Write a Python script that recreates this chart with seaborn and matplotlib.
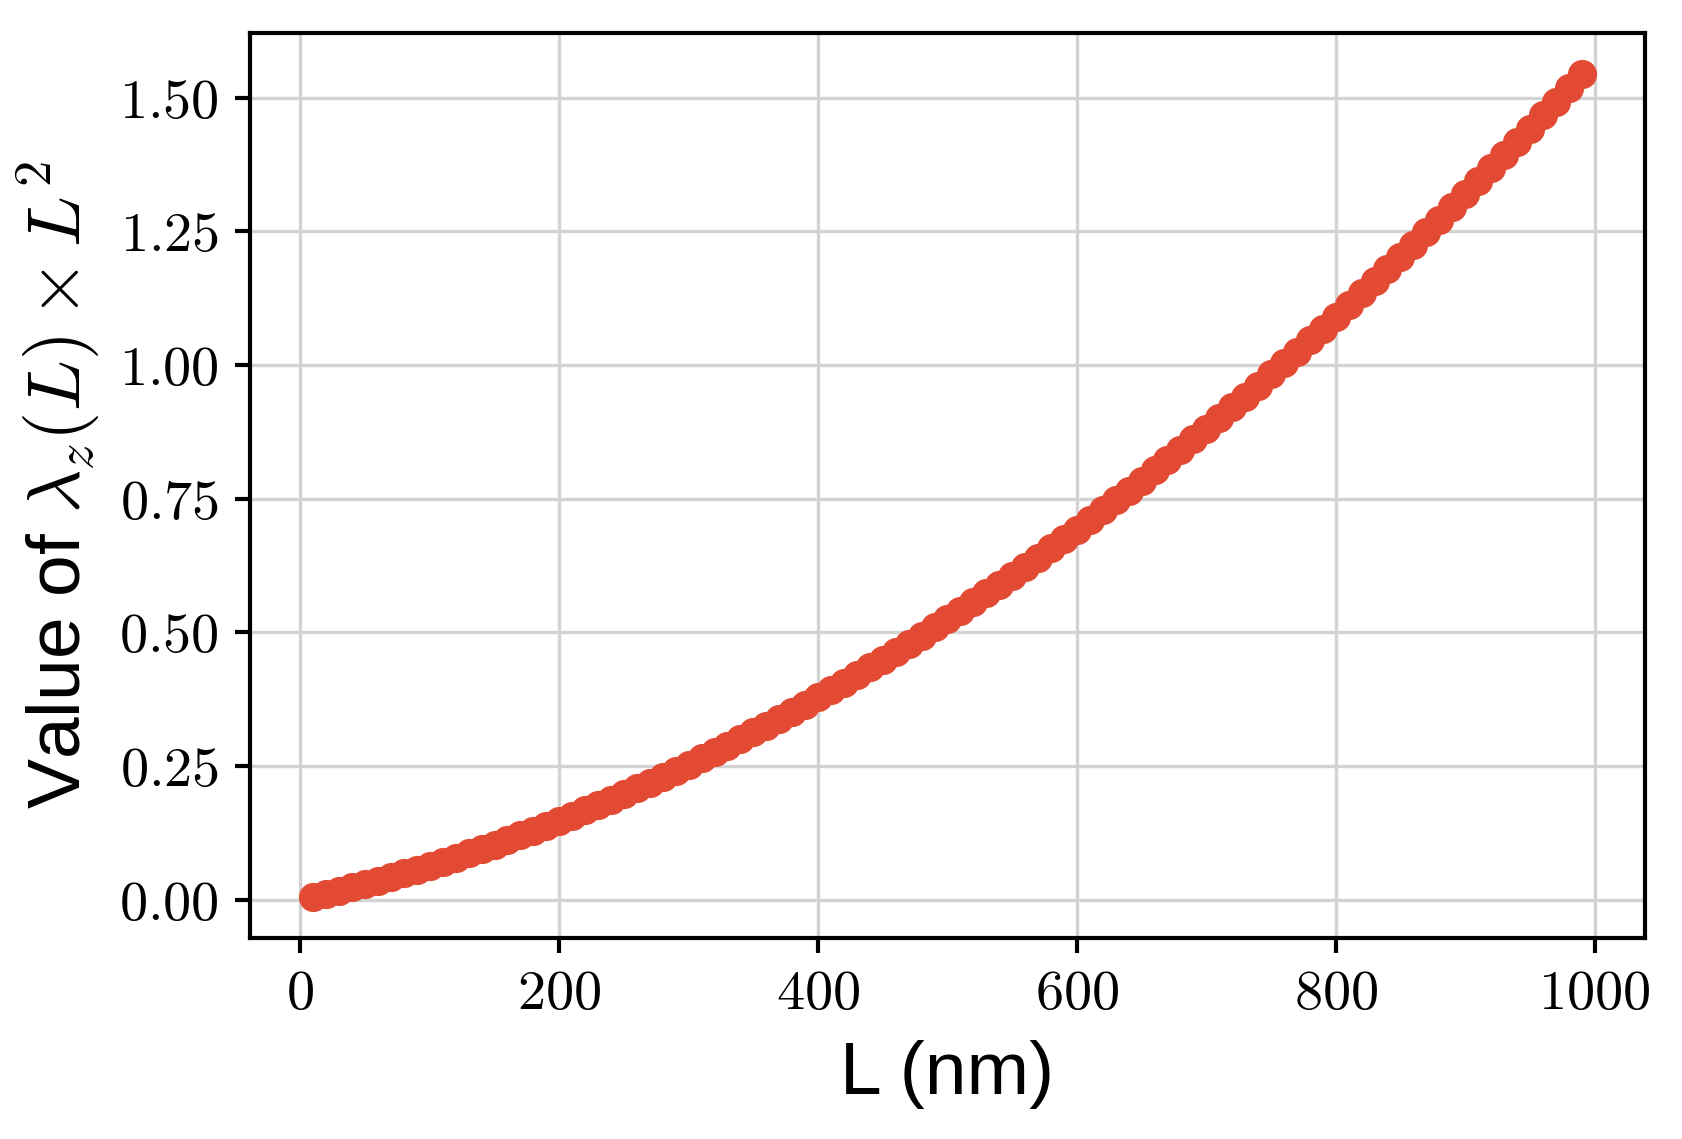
import pandas as pd
import matplotlib
matplotlib.use("Agg")
import matplotlib.pyplot as plt
import matplotlib.ticker as mticker
import seaborn as sns

# L values (nm) and estimated values of lambda_z(L) * L^2
L_nm = list(range(10, 1000, 10))
lambda_L2 = [
    0.0054, 0.0110, 0.0168, 0.0229, 0.0291, 0.0355, 0.0422, 0.0491, 0.0561, 0.0634,
    0.0709, 0.0786, 0.0865, 0.0946, 0.1029, 0.1114, 0.1202, 0.1291, 0.1382, 0.1476,
    0.1572, 0.1669, 0.1769, 0.1871, 0.1975, 0.2081, 0.2189, 0.2299, 0.2412, 0.2526,
    0.2642, 0.2761, 0.2882, 0.3004, 0.3129, 0.3256, 0.3385, 0.3516, 0.3649, 0.3784,
    0.3921, 0.4061, 0.4202, 0.4345, 0.4491, 0.4639, 0.4788, 0.4940, 0.5094, 0.5250,
    0.5408, 0.5568, 0.5730, 0.5895, 0.6061, 0.6229, 0.6400, 0.6573, 0.6747, 0.6924,
    0.7103, 0.7284, 0.7467, 0.7652, 0.7839, 0.8028, 0.8220, 0.8413, 0.8608, 0.8806,
    0.9006, 0.9207, 0.9411, 0.9617, 0.9825, 1.0035, 1.0247, 1.0461, 1.0678, 1.0896,
    1.1116, 1.1339, 1.1564, 1.1790, 1.2019, 1.2250, 1.2483, 1.2718, 1.2955, 1.3194,
    1.3435, 1.3679, 1.3924, 1.4171, 1.4421, 1.4673, 1.4926, 1.5182, 1.5440,
]
x_ticks = [0, 200, 400, 600, 800, 1000]
y_ticks = [0.00, 0.25, 0.50, 0.75, 1.00, 1.25, 1.50]

sns.set_theme(style="whitegrid")
plt.rcParams["font.family"] = ["Liberation Sans", "DejaVu Sans"]
plt.rcParams["mathtext.fontset"] = "cm"

df = pd.DataFrame({"L": L_nm, "val": lambda_L2})

fig = plt.figure(figsize=(1682 / 300, 1139 / 300), dpi=300)
ax = fig.add_axes([0.1486, 0.1765, 0.978 - 0.1486, 0.971 - 0.1765])
sns.scatterplot(data=df, x="L", y="val", ax=ax, color="#E24A33",
                s=7 ** 2, linewidth=0, zorder=3)

ax.set_xticks(x_ticks)
ax.set_yticks(y_ticks)
ax.xaxis.set_major_formatter(mticker.FuncFormatter(lambda v, p: f"${v:.0f}$"))
ax.yaxis.set_major_formatter(mticker.FuncFormatter(lambda v, p: f"${v:.2f}$"))
ax.tick_params(axis="both", labelsize=13.5, length=3.5, width=1.0,
               direction="out", color="black", labelcolor="black",
               bottom=True, left=True, pad=4)
ax.grid(True, color="#d3d3d3", linewidth=0.8)
for sp in ax.spines.values():
    sp.set_color("black")
    sp.set_linewidth(1.0)

ax.set_xlabel("L (nm)", fontsize=18, color="black", labelpad=4.5)
ax.set_ylabel(r"Value of $\lambda_z(L) \times L^2$", fontsize=18, color="black")

fig.savefig("out.png", dpi=300)
